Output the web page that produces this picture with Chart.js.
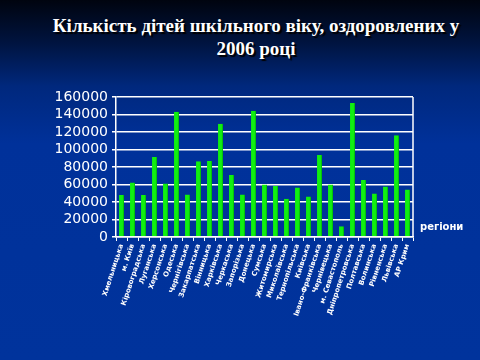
<!DOCTYPE html>
<html>
<head>
<meta charset="utf-8">
<script src="https://cdn.jsdelivr.net/npm/chart.js@4.4.0/dist/chart.umd.min.js"></script>
<style>
  html, body { margin: 0; padding: 0; }
  body {
    width: 480px; height: 360px; overflow: hidden; position: relative;
    background: linear-gradient(to bottom, #00040f 0%, #001440 12%, #00287d 24%, #00319a 40%, #00339c 100%);
  }
  .title {
    position: absolute; left: 0; width: 512px; top: 14px;
    text-align: center; color: #fff;
    font-family: 'Liberation Serif', 'Times New Roman', serif;
    font-weight: bold; font-size: 19px; line-height: 23px;
    text-shadow: 2px 2px 1px #000;
  }
  #wrap { position: absolute; left: 0; top: 0; width: 480px; height: 360px; }
</style>
</head>
<body>
<div class="title">Кількість дітей шкільного віку, оздоровлених у<br>2006 році</div>
<div id="wrap"><canvas id="chart"></canvas></div>
<script>
const regions = ['Хмельницька', 'м. Київ', 'Кіровоградська', 'Луганська', 'Херсонська', 'Одеська',
    'Чернігівська', 'Закарпатська', 'Вінницька', 'Харківська', 'Черкаська', 'Запорізька',
    'Донецька', 'Сумська', 'Житомирська', 'Миколаївська', 'Тернопільська', 'Київська',
    'Івано-Франківська', 'Чернівецька', 'м. Севастополь', 'Дніпропетровська', 'Полтавська',
    'Волинська', 'Рівненська', 'Львівська', 'АР Крим'];
const children = [48000, 62400, 48000, 91500, 61200, 143200,
    48600, 86500, 86900, 129400, 70800, 48600,
    144300, 60100, 58200, 43600, 56700, 46300,
    93800, 60100, 12200, 153100, 65100,
    49800, 57800, 116400, 54400];
const yMax = 160000;
const yStep = 20000;
const axisTitle = 'регіони';

const extras = {
    id: 'extras',
    afterDraw(chart) {
        const { ctx, chartArea: a } = chart;
        ctx.save();
        ctx.strokeStyle = '#ffffff';
        ctx.lineWidth = 1.5;
        ctx.beginPath();
        ctx.moveTo(a.right, a.top);
        ctx.lineTo(a.right, a.bottom);
        ctx.stroke();
        ctx.fillStyle = '#ffffff';
        ctx.font = 'bold 10px "DejaVu Sans", sans-serif';
        ctx.textBaseline = 'middle';
        ctx.fillText(axisTitle, a.right + 7, a.bottom - 10);
        ctx.restore();
    }
};

new Chart(document.getElementById('chart'), {
    type: 'bar',
    data: {
        labels: regions,
        datasets: [{
            data: children,
            backgroundColor: '#10f010',
            borderColor: '#06c806',
            borderWidth: { right: 1 },
            barPercentage: 0.9,
            categoryPercentage: 0.5
        }]
    },
    options: {
        responsive: true,
        maintainAspectRatio: false,
        animation: false,
        layout: { padding: { top: 97, right: 67, left: 0, bottom: 0 } },
        plugins: { legend: { display: false }, tooltip: { enabled: false } },
        scales: {
            x: {
                afterFit: (axis) => { axis.height = 123; },
                grid: { display: true, drawOnChartArea: false, drawTicks: true, tickLength: 4, color: '#ffffff', offset: true },
                border: { color: '#ffffff', width: 1.5 },
                ticks: {
                    color: '#ffffff',
                    font: { family: '"DejaVu Sans", sans-serif', size: 7, weight: 'bold' },
                    minRotation: 72, maxRotation: 72, autoSkip: false, padding: 2
                }
            },
            y: {
                min: 0, max: yMax,
                afterFit: (axis) => { axis.width = 116; },
                grid: { color: '#ffffff', lineWidth: 1.5, tickLength: 4 },
                border: { color: '#ffffff', width: 1.5 },
                ticks: {
                    stepSize: yStep, color: '#ffffff', padding: 4, autoSkip: false,
                    callback: (v) => String(v),
                    font: { family: '"DejaVu Sans", sans-serif', size: 14 }
                }
            }
        }
    },
    plugins: [extras]
});
</script>
</body>
</html>
